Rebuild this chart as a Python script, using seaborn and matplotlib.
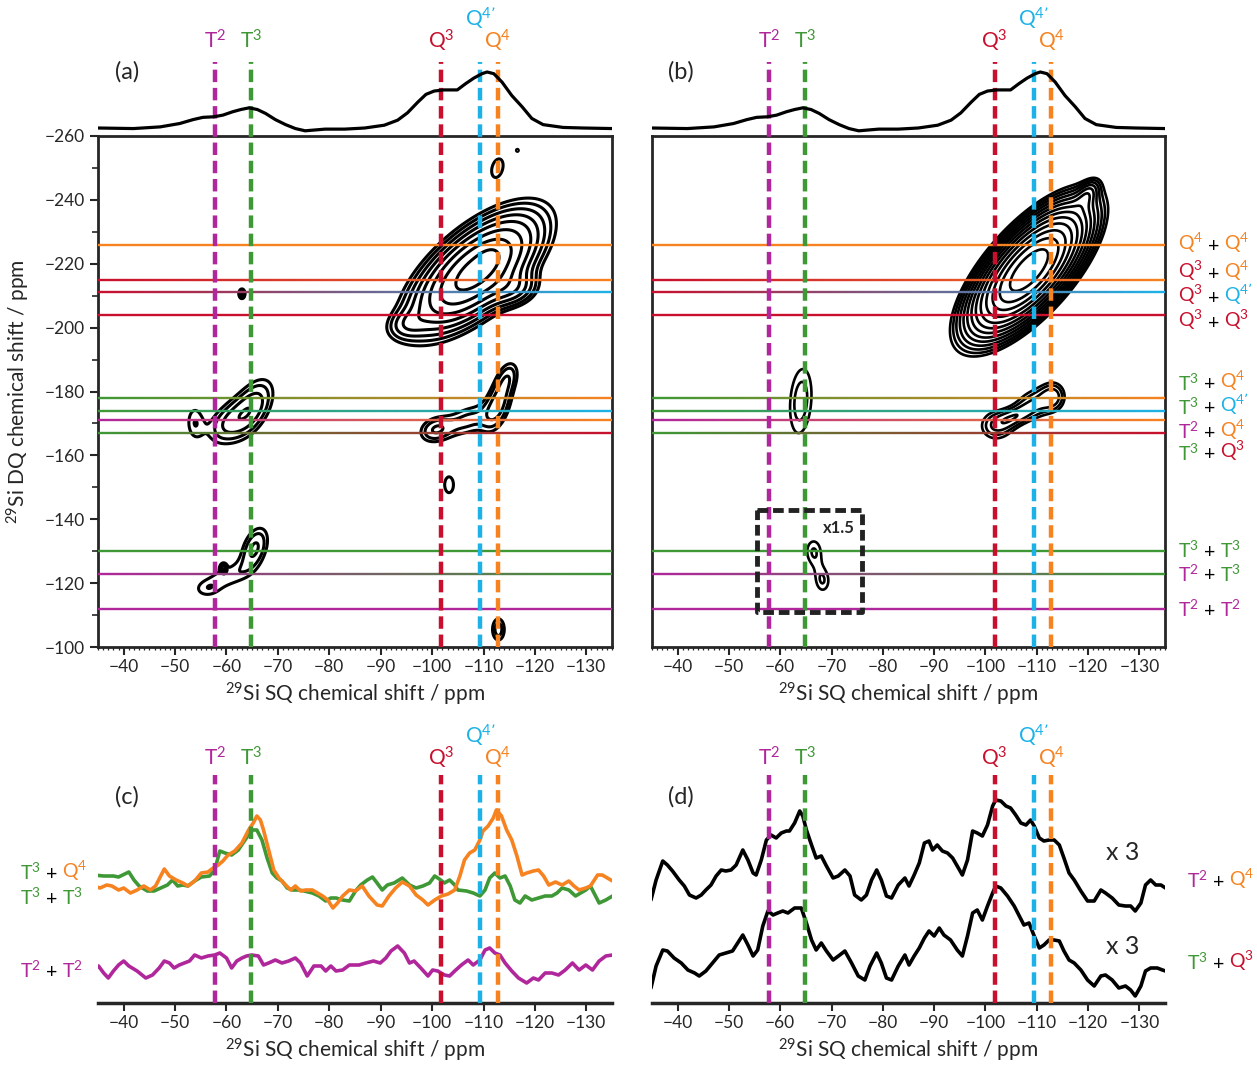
import numpy as np
import matplotlib
matplotlib.use("Agg")
import matplotlib.pyplot as plt
import seaborn as sns
from matplotlib.collections import LineCollection
from matplotlib.colors import to_rgb
from matplotlib.transforms import blended_transform_factory

sns.set_style("ticks")
plt.rcParams['font.family'] = ['Lato', 'DejaVu Sans']
plt.rcParams['mathtext.default'] = 'regular'

MAG, GRN, RED, CYN, ORG = "#B0269B", "#3E9835", "#C8102E", "#1CB2E8", "#F78220"

# sites (SQ shift, ppm)
site_names = ["T$^2$", "T$^3$", "Q$^3$", "Q$^{4’}$", "Q$^4$"]
site_ppm = [-57.8, -64.8, -101.8, -109.4, -112.8]
site_col = [MAG, GRN, RED, CYN, ORG]

# DQ correlation lines (ppm) and their site pairs
dq_ppm = [-226, -215, -211, -204, -178, -174, -171, -167, -130, -123, -112]
dq_pairs = [(4, 4), (2, 4), (2, 3), (2, 2), (1, 4), (1, 3), (0, 4), (1, 2), (1, 1), (0, 1), (0, 0)]
dq_label_y = [-226.5, -217.7, -210.2, -202.4, -182.7, -175.2, -167.6, -160.8, -130.4, -122.9, -111.9]

# 1D projection on top of (a) and (b)
proj_x = [-34.9, -41.9, -47.1, -50.9, -53.5, -55.4, -57.5, -59.3, -61.2, -62.8, -64.4, -66.0, -67.6,
          -69.5, -71.5, -73.4, -75.3, -79.2, -83.0, -86.9, -90.7, -93.3, -95.2, -97.2, -98.8, -100.4,
          -102.3, -104.9, -106.5, -108.1, -109.7, -110.7, -112.0, -113.6, -115.5, -117.5, -119.4,
          -121.6, -125.5, -129.3, -135.0]
proj_y = [0.0, -0.01, 0.02, 0.08, 0.15, 0.19, 0.2, 0.23, 0.29, 0.33, 0.36, 0.33, 0.26, 0.15, 0.06,
          -0.01, -0.05, -0.02, -0.02, 0.0, 0.05, 0.14, 0.27, 0.46, 0.6, 0.66, 0.68, 0.68, 0.79, 0.89,
          0.97, 1.0, 0.97, 0.82, 0.58, 0.38, 0.17, 0.06, 0.01, 0.0, -0.01]

# 2D peaks of (a): SQ, DQ, width SQ, width DQ, correlation, amplitude
a_sq = [-108.5, -111, -116, -95, -112.7, -116.6, -63, -103.3, -112.9,
        -65, -60, -53.8, -113, -100.5, -107, -115,
        -65.5, -60, -56, -59.4]
a_dq = [-217.5, -221.5, -212, -201, -250, -255.5, -210.6, -150.8, -105.5,
        -175, -170, -170.5, -177, -168, -171, -185,
        -131, -122, -118, -124.8]
a_wsq = [6.8, 1.5, 3.0, 2.5, 1.4, 0.35, 0.35, 1.2, 1.1,
         3.0, 3.0, 1.4, 2.0, 2.3, 3.5, 1.5,
         2.0, 3.5, 2.0, 0.35]
a_wdq = [10.0, 2.5, 3.5, 3.0, 3.6, 0.6, 0.9, 3.5, 3.2,
         6.5, 5.0, 4.5, 6.5, 3.0, 4.0, 3.5,
         5.0, 3.5, 2.2, 0.8]
a_rho = [0.65, 0.3, 0.2, 0.2, 0.3, 0, 0, 0, 0,
         0.5, 0.4, 0, 0.5, 0.2, 0.4, 0.3,
         0.4, 0.4, 0, 0]
a_amp = [1.0, 0.12, 0.18, 0.1, 0.095, 0.08, 0.3, 0.09, 0.12,
         0.17, 0.12, 0.092, 0.16, 0.13, 0.11, 0.07,
         0.15, 0.09, 0.06, 0.25]
a_levels = [0.07, 0.1, 0.143, 0.204, 0.29, 0.42, 0.6, 0.85]

# 2D peaks of (b)
b_sq = [-108.5, -120, -64, -102, -109.2, -113.5, -105.5, -66.5, -68.3]
b_dq = [-218, -242, -177, -169.3, -176, -178.5, -172, -130, -120.5]
b_wsq = [6.5, 1.5, 2.5, 3.0, 3.0, 2.0, 2.5, 1.8, 1.6]
b_wdq = [11.4, 3.0, 12.0, 4.5, 4.5, 4.0, 2.5, 4.5, 4.0]
b_rho = [0.7, 0.5, 0.2, 0, 0.2, 0, 0.5, 0, 0]
b_amp = [1.0, 0.08, 0.085, 0.085, 0.085, 0.08, 0.05, 0.075, 0.072]
b_levels = [0.06, 0.075, 0.093, 0.116, 0.145, 0.18, 0.225, 0.28, 0.35, 0.44, 0.55, 0.68, 0.85]

# (c) slices
c_green_x = [-34.1, -36.1, -38.0, -39.0, -41.0, -42.0, -43.0, -44.6, -45.9, -47.2, -48.5, -49.5, -50.5, -51.5,
             -52.5, -53.8, -55.1, -56.7, -57.7, -58.7, -59.7, -61.0, -62.3, -63.6, -64.9, -65.9, -66.9, -67.9,
             -68.9, -69.8, -70.8, -71.8, -72.8, -74.1, -75.1, -76.7, -78.0, -79.3, -80.3, -81.3, -82.6, -83.9,
             -85.1, -86.1, -87.4, -88.4, -89.3, -90.3, -91.3, -92.6, -94.2, -95.6, -96.9, -98.2, -99.5, -100.5,
             -101.4, -102.4, -103.4, -104.4, -105.0, -106.7, -108.0, -109.3, -110.3, -111.2, -112.2, -113.2,
             -114.2, -115.2, -116.1, -117.1, -118.1, -119.4, -120.7, -122.0, -123.3, -124.3, -125.3, -126.6,
             -127.9, -128.9, -129.9, -130.8, -131.8, -132.5, -133.8, -135.1]
c_green_y = [128, 127, 127, 126, 131, 123, 117, 112, 112, 115, 118, 123, 117, 118, 117, 122, 126, 127, 133, 152,
             150, 148, 153, 163, 173, 173, 163, 145, 130, 125, 122, 115, 113, 113, 112, 110, 107, 102, 105, 105,
             103, 102, 112, 118, 123, 126, 120, 113, 118, 120, 125, 118, 115, 117, 120, 127, 124, 120, 123, 118,
             113, 112, 110, 107, 113, 125, 130, 125, 127, 117, 103, 100, 107, 103, 105, 107, 107, 110, 115, 113,
             107, 110, 113, 117, 107, 100, 103, 107]
c_orange_x = [-34.1, -35.4, -36.7, -37.7, -39.0, -40.0, -41.3, -42.6, -43.9, -45.2, -46.2, -47.2, -47.9, -48.9,
              -50.2, -51.5, -52.5, -53.8, -55.1, -56.4, -57.4, -58.4, -59.3, -60.3, -61.6, -63.0, -64.3, -65.2,
              -65.9, -66.6, -67.2, -68.2, -69.2, -70.2, -71.5, -72.5, -73.4, -74.4, -75.4, -76.7, -77.7, -78.7,
              -79.7, -80.7, -81.6, -82.6, -83.9,
              -85.1, -86.4, -87.7, -89.3, -90.3, -91.6, -92.9, -94.2, -95.6, -96.9, -98.2, -99.2, -100.5, -101.8,
              -103.1, -104.4, -105.4, -106.3, -107.3, -108.3, -109.3, -109.9, -110.9, -111.9, -112.5, -113.5,
              -114.5, -115.5, -116.5, -117.5, -118.4, -119.7, -120.7, -121.7, -122.7, -124.0, -125.3, -126.6,
              -127.6, -128.6, -129.9, -130.8, -132.2, -133.1, -134.1, -135.1]
c_orange_y = [117, 115, 118, 117, 113, 115, 110, 113, 117, 113, 117, 127, 134, 127, 123, 120, 117, 122, 130, 131,
              135, 138, 142, 148, 152, 160, 173, 180, 187, 183, 173, 153, 133, 125, 118, 113, 117, 112, 113, 113,
              110, 107, 103, 95, 100, 107, 113,
              112, 117, 107, 98, 97, 107, 115, 121, 117, 108, 103, 98, 103, 107, 109, 113, 127, 143, 150, 153,
              163, 172, 177, 185, 193, 187, 173, 163, 147, 128, 130, 132, 133, 127, 118, 121, 118, 122, 117, 113,
              115, 117, 128, 128, 125, 122]
c_mag_x = [-34.1, -35.1, -36.1, -37.0, -38.0, -39.0, -40.0, -41.0, -42.6, -44.3, -45.6, -46.9, -47.9, -48.9,
           -49.8, -50.8, -51.8, -52.8, -53.8, -55.1, -56.4, -57.7, -58.7, -60.0, -61.0, -62.0, -63.0, -63.9,
           -64.9, -66.2, -67.2, -68.2, -69.5, -70.8, -72.1, -73.4, -74.4, -75.7, -77.0, -78.4, -79.3, -80.3,
           -81.3, -82.6, -83.9,
           -85.8, -87.1, -88.6, -89.9, -91.0, -92.0, -93.3, -94.6, -95.6, -96.5, -97.8, -99.2, -100.1, -101.1,
           -102.4, -103.4, -104.4, -105.7, -107.0, -108.0, -109.3, -110.3, -111.2, -112.2, -113.2, -114.2,
           -115.5, -116.8, -118.4, -119.7, -120.7, -122.0, -123.3, -124.6, -125.9, -127.3, -128.6, -129.9,
           -131.2, -132.5, -133.8, -135.1]
c_mag_y = [32, 37, 30, 25, 32, 38, 42, 37, 32, 25, 28, 35, 42, 40, 35, 38, 40, 42, 48, 45, 47, 48, 50, 45, 35,
           42, 45, 47, 48, 47, 38, 40, 43, 40, 42, 45, 40, 27, 37, 37, 32, 37, 32, 33, 38,
           38, 40, 42, 40, 45, 52, 57, 50, 40, 42, 35, 27, 33, 32, 28, 27, 32, 38, 43, 38, 43, 53, 55, 50, 48,
           40, 32, 25, 20, 25, 23, 30, 30, 28, 33, 40, 33, 38, 33, 42, 47, 48]

# (d) slices
d_top_x = [-34.8, -35.8, -37.1, -38.0, -39.0, -40.3, -41.3, -42.3, -43.6, -44.6, -45.5, -46.5, -47.5, -48.5,
           -49.4, -50.4, -51.4, -52.7, -53.7, -54.7, -55.3, -56.3, -57.3, -58.2, -59.2, -60.2, -61.2, -61.8,
           -62.8, -63.8, -64.4, -65.1, -66.1, -67.0, -68.0, -69.0, -70.3, -71.3, -72.6, -73.6, -74.5, -75.8,
           -76.8, -77.8, -78.8, -79.7, -80.7, -81.7, -83.0, -84.3,
           -85.1, -86.1, -87.1, -88.1, -89.0, -89.7, -90.6, -91.6, -92.6, -93.6, -94.5, -95.5, -96.5, -97.5,
           -98.4, -99.4, -100.4, -101.4, -102.0, -103.0, -104.0, -104.9, -105.9, -106.9, -107.9, -108.8,
           -109.5, -110.5, -111.4, -112.4, -113.4, -114.4, -115.3, -116.3, -117.3, -118.6, -119.9, -121.2,
           -122.5, -123.4, -124.7, -126.0, -127.3, -128.3, -129.2, -130.3, -131.2, -132.2, -133.2, -134.2, -135.1]
d_top_y = [103, 123, 142, 138, 132, 123, 117, 108, 105, 108, 113, 118, 127, 133, 132, 133, 138, 153, 143, 130,
           128, 143, 163, 168, 165, 170, 172, 172, 180, 192, 187, 173, 158, 145, 147, 137, 125, 127, 133, 127,
           108, 103, 108, 123, 133, 123, 107, 105, 118, 125,
           117, 128, 140, 160, 162, 153, 158, 152, 150, 145, 137, 128, 143, 172, 170, 167, 178, 197, 203, 202,
           197, 195, 188, 180, 178, 183, 177, 165, 162, 163, 163, 158, 145, 130, 123, 112, 102, 102, 113, 110,
           105, 98, 97, 97, 92, 100, 118, 123, 118, 118, 115]
d_bot_x = [-34.8, -35.8, -37.1, -38.0, -39.3, -40.7, -42.0, -43.3, -44.2, -45.5, -46.8, -48.1, -49.4, -50.7,
           -51.7, -52.7, -53.7, -54.7, -55.6, -56.6, -57.6, -58.6, -59.5, -60.5, -61.5, -62.8, -64.1, -65.1,
           -66.1, -67.0, -68.0, -69.0, -70.3, -71.6, -72.6, -73.9, -75.2, -76.5, -77.5, -78.8, -79.7, -80.7,
           -81.7, -83.0, -84.3,
           -85.1, -86.1, -87.1, -88.1, -89.0, -90.0, -91.0, -91.9, -93.2, -94.5, -95.5, -96.5, -97.5, -98.4,
           -99.4, -100.4, -101.4, -102.0, -103.0, -104.3, -105.6, -106.6, -107.5, -108.5, -109.5, -110.5,
           -111.4, -112.4, -113.4, -114.4, -115.3, -116.3, -117.3, -118.6, -119.9, -121.2, -122.5, -123.4,
           -124.7, -126.0, -127.3, -128.3, -129.2, -130.3, -131.2, -132.2, -133.5, -134.5, -135.1]
d_bot_y = [15, 37, 53, 52, 45, 40, 33, 30, 27, 32, 40, 48, 50, 52, 60, 68, 58, 47, 53, 77, 92, 88, 90, 92, 90,
           95, 95, 80, 63, 53, 60, 52, 43, 48, 52, 40, 27, 23, 37, 50, 40, 25, 23, 37, 48,
           38, 47, 55, 65, 72, 67, 75, 68, 63, 53, 47, 67, 90, 93, 83, 97, 110, 117, 115, 107, 97, 87, 78, 80,
           67, 55, 58, 63, 63, 62, 52, 43, 40, 33, 23, 17, 27, 28, 23, 15, 17, 13, 7, 17, 32, 35, 35, 33, 32]

W, H = 1257, 1067
fig = plt.figure(figsize=(W / 100, H / 100), dpi=100)


def rect(x0, y0, x1, y1):
    return [x0 / W, 1 - y1 / H, (x1 - x0) / W, (y1 - y0) / H]


def field(sq, dq, x0, y0, sx, sy, rho, amp):
    SQ, DQ = np.meshgrid(sq, dq)
    Z = np.zeros_like(SQ)
    for i in range(len(x0)):
        u = (SQ - x0[i]) / sx[i]
        v = (DQ - y0[i]) / sy[i]
        r = rho[i]
        Z += amp[i] * np.exp(-0.5 * (u * u - 2 * r * u * v + v * v) / (1 - r * r))
    return Z


def grad_hline(ax, y, c1, c2, n=240):
    xs = np.linspace(-35, -135, n + 1)
    segs = [[(xs[k], y), (xs[k + 1], y)] for k in range(n)]
    t = np.linspace(0, 1, n)[:, None]
    cols = np.array(to_rgb(c1)) * (1 - t) + np.array(to_rgb(c2)) * t
    ax.add_collection(LineCollection(segs, colors=cols, linewidths=1.7, zorder=3))


def multi_text(ax, x, y, parts, transform, fs=14):
    t = ax.text(x, y, parts[0][0], color=parts[0][1], fontsize=fs, transform=transform,
                va='center', ha='left', clip_on=False)
    for s, c in parts[1:]:
        t = ax.annotate(s, xy=(1, 0), xycoords=t, va='bottom', ha='left', color=c, fontsize=fs,
                        annotation_clip=False)
    return t


def pair_parts(i, j):
    return [(site_names[i], site_col[i]), (" + ", "black"), (site_names[j], site_col[j])]


DASH = (0, (2.8, 1.3))
sq_grid = np.linspace(-35, -135, 600)
dq_grid = np.linspace(-260, -100, 900)
ppm_per_px = 160 / 511

ax_a = fig.add_axes(rect(98, 136, 612, 647))
ax_b = fig.add_axes(rect(652, 136, 1165, 647))
pj_a = fig.add_axes(rect(98, 55, 612, 136))
pj_b = fig.add_axes(rect(652, 55, 1165, 136))
ax_c = fig.add_axes(rect(98, 775, 612, 1003))
ax_d = fig.add_axes(rect(652, 775, 1165, 1003))

panels2d = [(ax_a, pj_a, "(a)", (a_sq, a_dq, a_wsq, a_wdq, a_rho, a_amp), a_levels, 2.2),
            (ax_b, pj_b, "(b)", (b_sq, b_dq, b_wsq, b_wdq, b_rho, b_amp), b_levels, 1.9)]

for ax, pj, letter, pk, levels, clw in panels2d:
    Z = field(sq_grid, dq_grid, *pk)
    ax.contour(sq_grid, dq_grid, Z, levels=levels, colors='black', linewidths=clw, zorder=2)
    for y, (i, j) in zip(dq_ppm, dq_pairs):
        grad_hline(ax, y, site_col[i], site_col[j])
    y_top = -260 - (136 - 62) * ppm_per_px
    for x, c, name in zip(site_ppm, site_col, site_names):
        ax.plot([x, x], [-100, y_top], color=c, lw=3.2, ls=DASH, zorder=4, clip_on=False)
        ylab = -260 - ((136 - 19) if "4’" in name else (136 - 41)) * ppm_per_px
        ax.text(x, ylab, name, color=c, fontsize=15, ha='center', va='center', clip_on=False)
    ax.set_xlim(-35, -135)
    ax.set_ylim(-100, -260)
    ax.set_xticks(np.arange(-40, -131, -10))
    ax.set_xticks(np.arange(-35, -136, -1), minor=True)
    ax.tick_params(axis='x', which='major', direction='out', length=6, width=1.5, labelsize=12.5, pad=3)
    ax.tick_params(axis='x', which='minor', direction='out', length=2.5, width=0.9)
    for sp in ax.spines.values():
        sp.set_linewidth(2)
    ax.set_xlabel("$^{29}$Si SQ chemical shift / ppm", fontsize=15, labelpad=4)

    sns.lineplot(x=proj_x, y=proj_y, ax=pj, color='black', linewidth=2.3, sort=False)
    pj.set_xlim(-35, -135)
    pj.set_ylim(-8 / 56, 73 / 56)
    pj.axis('off')
    pj.text(-40.7, 1.0, letter, fontsize=17, ha='center', va='center')

ax_a.set_yticks(np.arange(-260, -99, 20))
ax_a.set_yticks(np.arange(-260, -99, 10), minor=True)
ax_a.tick_params(axis='y', which='major', direction='out', length=6, width=1.5, labelsize=12.5)
ax_a.tick_params(axis='y', which='minor', direction='out', length=4, width=1.2)
ax_a.set_ylabel("$^{29}$Si DQ chemical shift / ppm", fontsize=15, labelpad=9)
ax_b.set_yticks([])

# x1.5 box in (b)
ax_b.plot([-55.5, -75.9, -75.9, -55.5, -55.5], [-142.9, -142.9, -111, -111, -142.9], color='#222222',
          lw=3.5, ls=(0, (2.2, 1.0)), zorder=5)
ax_b.text(-71.5, -137.3, "x1.5", fontsize=12, fontweight='bold', ha='center', va='center', zorder=6)

tb = blended_transform_factory(ax_b.transAxes, ax_b.transData)
for yl, (i, j) in zip(dq_label_y, dq_pairs):
    multi_text(ax_b, 1.025, yl, pair_parts(i, j), tb, fs=14)

# 1D slices
sns.lineplot(x=c_green_x, y=c_green_y, ax=ax_c, color=GRN, linewidth=2.6, sort=False)
sns.lineplot(x=c_orange_x, y=c_orange_y, ax=ax_c, color=ORG, linewidth=2.6, sort=False)
sns.lineplot(x=c_mag_x, y=c_mag_y, ax=ax_c, color=MAG, linewidth=2.6, sort=False)
sns.lineplot(x=d_top_x, y=d_top_y, ax=ax_d, color='black', linewidth=2.6, sort=False)
sns.lineplot(x=d_bot_x, y=d_bot_y, ax=ax_d, color='black', linewidth=2.6, sort=False)

for ax, letter in [(ax_c, "(c)"), (ax_d, "(d)")]:
    for x, c, name in zip(site_ppm, site_col, site_names):
        ax.plot([x, x], [0, 228], color=c, lw=3.2, ls=DASH, zorder=4, clip_on=False)
        ax.text(x, 267 if "4’" in name else 245, name, color=c, fontsize=15, ha='center', va='center',
                clip_on=False)
    ax.text(-40.7, 206, letter, fontsize=17, ha='center', va='center')
    ax.set_xlim(-35, -135)
    ax.set_ylim(0, 228)
    ax.set_xticks(np.arange(-40, -131, -10))
    ax.set_yticks([])
    for s in ['top', 'left', 'right']:
        ax.spines[s].set_visible(False)
    ax.spines['bottom'].set_linewidth(2.5)
    ax.tick_params(axis='x', which='major', direction='out', length=6, width=1.5, labelsize=12.5, pad=3)
    ax.set_xlabel("$^{29}$Si SQ chemical shift / ppm", fontsize=15, labelpad=4)

tc = blended_transform_factory(ax_c.transAxes, ax_c.transData)
multi_text(ax_c, -0.152, 131, pair_parts(1, 4), tc, fs=14)
multi_text(ax_c, -0.152, 106, pair_parts(1, 1), tc, fs=14)
multi_text(ax_c, -0.152, 33, pair_parts(0, 0), tc, fs=14)

td = blended_transform_factory(ax_d.transAxes, ax_d.transData)
multi_text(ax_d, 1.043, 123, pair_parts(0, 4), td, fs=14)
multi_text(ax_d, 1.043, 41, pair_parts(1, 2), td, fs=14)
ax_d.text(-126.7, 151, "x 3", fontsize=18, ha='center', va='center')
ax_d.text(-126.7, 56, "x 3", fontsize=18, ha='center', va='center')

fig.savefig("out.png", dpi=100)
